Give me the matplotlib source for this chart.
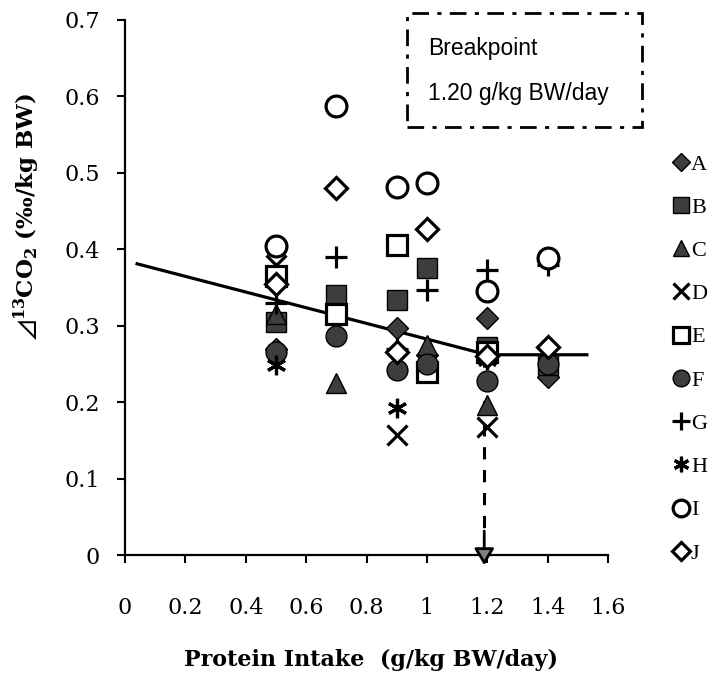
import numpy as np
import matplotlib

matplotlib.use("Agg")
import matplotlib.pyplot as plt
from matplotlib.patches import Rectangle
from matplotlib.lines import Line2D

plt.rcParams["font.family"] = ["DejaVu Serif", "DejaVu Sans"]
plt.rcParams["mathtext.fontset"] = "custom"
plt.rcParams["mathtext.rm"] = "DejaVu Serif"
plt.rcParams["mathtext.bf"] = "DejaVu Serif:bold"
plt.rcParams["mathtext.fallback"] = "stix"

# ── Data ──────────────────────────────────────────────────────────────────────
intakes = [0.5, 0.7, 0.9, 1.0, 1.2, 1.4]
nan = np.nan
subj_A = [0.270, nan, 0.297, 0.262, 0.310, 0.233]
subj_B = [0.305, 0.340, 0.334, 0.376, 0.272, 0.248]
subj_C = [0.315, 0.225, nan, 0.275, 0.196, nan]
subj_D = [0.380, 0.315, 0.157, 0.240, 0.168, nan]
subj_E = [0.365, 0.315, 0.406, 0.240, 0.265, nan]
subj_F = [0.265, 0.286, 0.242, 0.250, 0.228, 0.250]
subj_G = [0.330, 0.390, 0.270, 0.347, 0.373, 0.380]
subj_H = [0.248, nan, 0.192, nan, 0.255, nan]
subj_I = [0.404, 0.588, 0.482, 0.487, 0.345, 0.388]
subj_J = [0.355, 0.480, 0.265, 0.427, 0.260, 0.272]
labels = ["A", "B", "C", "D", "E", "F", "G", "H", "I", "J"]
subjects = [subj_A, subj_B, subj_C, subj_D, subj_E,
            subj_F, subj_G, subj_H, subj_I, subj_J]

# broken-line fit
line_x = [0.04, 1.20, 1.53]
line_y = [0.381, 0.262, 0.262]
breakpoint_x = 1.19
breakpoint_y = 0.262

FILL = "#3d3d3d"
styles = {
    "A": dict(marker="D", ms=11, mfc=FILL, mec="black", mew=1),
    "B": dict(marker="s", ms=14, mfc=FILL, mec="black", mew=1),
    "C": dict(marker="^", ms=15, mfc=FILL, mec="black", mew=1),
    "D": dict(marker="x", ms=14, mfc="black", mec="black", mew=2.3),
    "E": dict(marker="s", ms=14, mfc="white", mec="black", mew=2.3),
    "F": dict(marker="o", ms=15, mfc=FILL, mec="black", mew=1),
    "G": dict(marker="+", ms=16, mfc="black", mec="black", mew=2.3),
    "H": dict(marker=(6, 2, 0), ms=14, mfc="black", mec="black", mew=2.3),
    "I": dict(marker="o", ms=15, mfc="white", mec="black", mew=2.3),
    "J": dict(marker="D", ms=11, mfc="white", mec="black", mew=2.3),
}

fig = plt.figure(figsize=(7.08, 6.73), dpi=100)
ax = fig.add_axes([125 / 708, 1 - 555 / 673, 483 / 708, 535 / 673])

ax.plot(line_x, line_y, color="black", lw=2.3, zorder=2)

for lab, vals in zip(labels, subjects):
    ax.plot(intakes, vals, ls="none", zorder=3, clip_on=False, **styles[lab])

# dashed arrow at the breakpoint
ax.plot([breakpoint_x, breakpoint_x], [breakpoint_y, 0.03], color="black",
        lw=2.2, ls=(0, (4, 3.5)), zorder=2)
ax.annotate("", xy=(breakpoint_x, -0.017), xytext=(breakpoint_x, 0.035),
            arrowprops=dict(arrowstyle="-|>,head_length=1.0,head_width=0.6",
                            color="black", fc="#808080", lw=2),
            annotation_clip=False, zorder=4)

ax.set_xlim(0, 1.6)
ax.set_ylim(0, 0.7)
ax.set_xticks(np.arange(0, 1.61, 0.2))
ax.set_xticklabels(["0", "0.2", "0.4", "0.6", "0.8", "1", "1.2", "1.4", "1.6"])
ax.set_yticks(np.arange(0, 0.71, 0.1))
ax.set_yticklabels(["0", "0.1", "0.2", "0.3", "0.4", "0.5", "0.6", "0.7"])
ax.tick_params(axis="x", direction="out", length=6, width=1.5, pad=24, labelsize=16)
ax.tick_params(axis="y", direction="out", length=6, width=1.5, pad=12, labelsize=16)
for side in ("top", "right"):
    ax.spines[side].set_visible(False)
for side in ("left", "bottom"):
    ax.spines[side].set_linewidth(1.6)

fig.text(371 / 708, 1 - 660 / 673, "Protein Intake  (g/kg BW/day)",
         ha="center", va="center", fontsize=16, fontweight="bold")
fig.text(27 / 708, 1 - 217 / 673,
         r"$\mathbf{⊿}$$\mathbf{^{13}}$CO$\mathbf{_2}$ (‰/kg BW)",
         ha="center", va="center", rotation=90, fontsize=16.5, fontweight="bold")

# breakpoint box
fig.patches.append(Rectangle((407 / 708, 1 - 127 / 673), 235 / 708, 114 / 673,
                             transform=fig.transFigure, fill=False, lw=2,
                             ls=(0, (6, 3, 1.5, 3)), ec="black"))
fig.text(428 / 708, 1 - 55 / 673, "Breakpoint", family="Liberation Sans",
         fontsize=16.5, va="baseline")
fig.text(428 / 708, 1 - 100 / 673, "1.20 g/kg BW/day", family="Liberation Sans",
         fontsize=16.5, va="baseline")

legend_handles = [Line2D([], [], ls="none", **styles[lab]) for lab in labels]
fig.legend(legend_handles, labels, loc="upper left",
           bbox_to_anchor=(672 / 708, 1 - 154 / 673), frameon=False,
           prop={"family": "Liberation Serif", "size": 16},
           markerscale=0.8, handlelength=0.8, handletextpad=0.05,
           labelspacing=1.02, borderaxespad=0, borderpad=0)

fig.savefig("out.png", dpi=100)
